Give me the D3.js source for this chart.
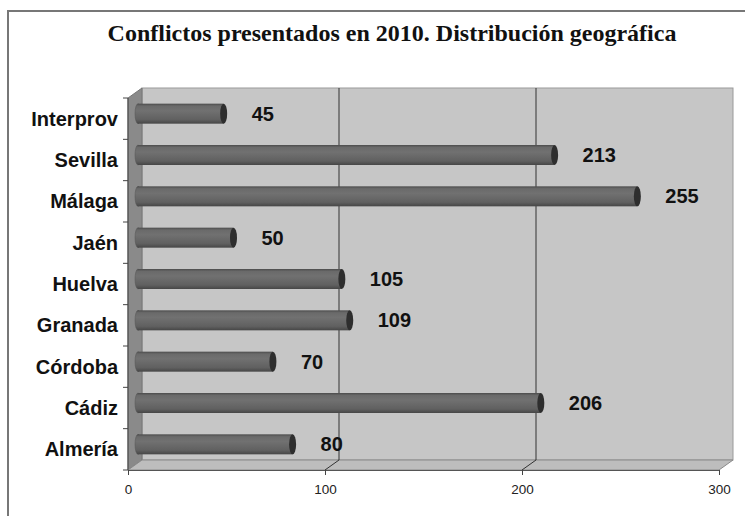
<!DOCTYPE html>
<html>
<head>
<meta charset="utf-8">
<script src="https://cdn.jsdelivr.net/npm/d3@7/dist/d3.min.js"></script>
<style>
  html, body { margin: 0; padding: 0; background: #fff; }
  svg { display: block; }
  .cat { font: bold 20px "Liberation Sans", Arial, sans-serif; fill: #111; }
  .val { font: bold 20px "Liberation Sans", Arial, sans-serif; fill: #111; }
  .tick text { font: 13.5px "Liberation Sans", Arial, sans-serif; fill: #222; }
</style>
</head>
<body>
<div id="chart"></div>
<script>
// Conflictos presentados en 2010, por provincia (top to bottom as drawn)
var provincias = ["Interprov", "Sevilla", "Málaga", "Jaén", "Huelva", "Granada", "Córdoba", "Cádiz", "Almería"];
var conflictos = [45, 213, 255, 50, 105, 109, 70, 206, 80];
var xTicks = [0, 100, 200, 300];
var titulo = "Conflictos presentados en 2010. Distribución geográfica";

(function () {
  var W = 745, H = 516;
  var dx = 14, dy = -10;          // 3d depth offset of the back wall
  var barH = 20;

  var svg = d3.select("#chart").append("svg")
    .attr("width", W).attr("height", H);

  var defs = svg.append("defs");
  var g = defs.append("linearGradient").attr("id", "cyl")
    .attr("x1", 0).attr("y1", 0).attr("x2", 0).attr("y2", 1);
  [[0, "#4c4c4c"], [0.12, "#6a6a6a"], [0.35, "#717171"], [0.8, "#606060"], [1, "#464646"]]
    .forEach(function (s) { g.append("stop").attr("offset", s[0]).attr("stop-color", s[1]); });

  // outer frame, cut off on the right and bottom like the source image
  svg.append("rect")
    .attr("x", 8).attr("y", 11).attr("width", W + 20).attr("height", H + 20)
    .attr("fill", "#fff").attr("stroke", "#777").attr("stroke-width", 2);

  svg.append("text")
    .attr("x", 392).attr("y", 41).attr("text-anchor", "middle")
    .style("font", "bold 24px 'Liberation Serif', 'Times New Roman', serif")
    .attr("fill", "#111")
    .text(titulo);

  var x = d3.scaleLinear().domain([0, 300]).range([128, 719]);
  var y = d3.scaleBand().domain(provincias).range([98, 470]);

  var x0 = x(0), x1 = x(300), y0 = y.range()[0], y1 = y.range()[1];

  // back wall
  svg.append("rect")
    .attr("x", x0 + dx).attr("y", y0 + dy)
    .attr("width", x1 - x0).attr("height", y1 - y0)
    .attr("fill", "#c6c6c6").attr("stroke", "#9a9a9a");

  // left wall
  svg.append("path")
    .attr("d", "M" + x0 + "," + y0 + "L" + (x0 + dx) + "," + (y0 + dy) +
      "L" + (x0 + dx) + "," + (y1 + dy) + "L" + x0 + "," + y1 + "Z")
    .attr("fill", "#8a8a8a").attr("stroke", "#777");

  // floor
  svg.append("path")
    .attr("d", "M" + x0 + "," + y1 + "L" + (x0 + dx) + "," + (y1 + dy) +
      "L" + (x1 + dx) + "," + (y1 + dy) + "L" + x1 + "," + y1 + "Z")
    .attr("fill", "#bdbdbd").attr("stroke", "#8a8a8a");

  // gridlines on the back wall and across the floor
  var grid = svg.append("g").attr("stroke", "#333").attr("stroke-width", 1);
  xTicks.filter(function (t) { return t > 0 && t < 300; }).forEach(function (t) {
    grid.append("line")
      .attr("x1", x(t) + dx).attr("x2", x(t) + dx)
      .attr("y1", y0 + dy).attr("y2", y1 + dy);
    grid.append("line")
      .attr("x1", x(t)).attr("x2", x(t) + dx)
      .attr("y1", y1).attr("y2", y1 + dy);
  });

  // category axis: front edge of the left wall with ticks at band edges
  var cat = svg.append("g").attr("stroke", "#444");
  cat.append("line").attr("x1", x0).attr("x2", x0).attr("y1", y0).attr("y2", y1);
  d3.range(provincias.length + 1).forEach(function (i) {
    var yy = y0 + i * y.step();
    cat.append("line").attr("x1", x0 - 5).attr("x2", x0).attr("y1", yy).attr("y2", yy);
  });

  svg.append("g").selectAll("text")
    .data(provincias).join("text")
    .attr("class", "cat")
    .attr("x", 118)
    .attr("y", function (d) { return y(d) + y.bandwidth() / 2; })
    .attr("dy", "0.35em")
    .attr("text-anchor", "end")
    .text(function (d) { return d; });

  // value axis along the front edge of the floor
  var ax = svg.append("g")
    .attr("transform", "translate(0," + y1 + ")")
    .call(d3.axisBottom(x).tickValues(xTicks).tickSize(5).tickPadding(9).tickSizeOuter(0));
  ax.select(".domain").attr("stroke", "#555");
  ax.selectAll(".tick line").attr("stroke", "#444");

  // cylinders sit half way into the depth
  var rows = provincias.map(function (p, i) { return { cat: p, v: conflictos[i] }; });
  var xm = function (v) { return x(v) + dx / 2; };
  var ym = function (d) { return y(d.cat) + y.bandwidth() / 2 + dy / 2; };

  var bar = svg.append("g").selectAll("g")
    .data(rows).join("g");

  bar.append("ellipse")
    .attr("cx", xm(0) + 3).attr("cy", ym)
    .attr("rx", 3).attr("ry", barH / 2)
    .attr("fill", "url(#cyl)").attr("stroke", "#555").attr("stroke-width", 0.5);

  bar.append("rect")
    .attr("x", xm(0) + 3)
    .attr("y", function (d) { return ym(d) - barH / 2; })
    .attr("width", function (d) { return xm(d.v) - xm(0) - 3; })
    .attr("height", barH)
    .attr("fill", "url(#cyl)");

  bar.append("ellipse")
    .attr("cx", function (d) { return xm(d.v); })
    .attr("cy", ym)
    .attr("rx", 3.5).attr("ry", barH / 2)
    .attr("fill", "#2e2e2e");

  bar.append("text")
    .attr("class", "val")
    .attr("x", function (d) { return xm(d.v) + 28; })
    .attr("y", ym)
    .attr("dy", "0.35em")
    .text(function (d) { return d.v; });
})();
</script>
</body>
</html>
